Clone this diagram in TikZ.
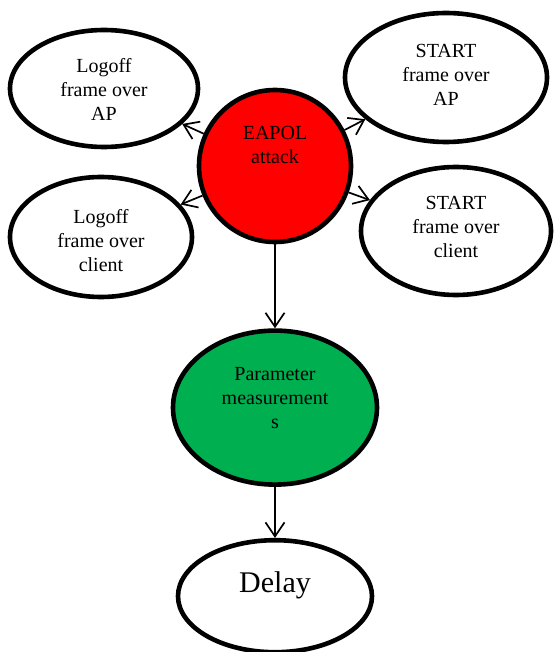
\documentclass[tikz,border=0pt]{standalone}
\usepackage{fontspec}
\setmainfont{Liberation Serif}
\usetikzlibrary{shapes.geometric, positioning, arrows.meta}
\definecolor{eapolred}{RGB}{255,0,0}
\definecolor{paramgreen}{RGB}{0,176,80}

\begin{document}
\begin{tikzpicture}[x=1pt, y=-1pt, node distance=84pt,
    bubble/.style={draw, ellipse, line width=4.6pt, inner sep=1pt, align=center, font=\fontsize{20}{24}\selectfont, text depth=4pt},
    link/.style={-{Straight Barb[length=14pt, width=19pt]}, line width=1.7pt}]
    \useasboundingbox (0,0) rectangle (555,652);

    \node[bubble, circle, fill=eapolred, minimum size=152pt, text height=0pt] (eapol) at (275,166) {EAPOL\\attack};
    \node[bubble, minimum width=188pt, minimum height=117pt, text height=69pt] (logoffap) at (104,88.5) {Logoff\\frame over\\AP};
    \node[bubble, minimum width=202pt, minimum height=129pt, text height=61pt] (startap) at (446,77.5) {START\\frame over\\AP};
    \node[bubble, minimum width=182pt, minimum height=120pt, text height=72pt] (logoffcl) at (101,237) {Logoff\\frame over\\client};
    \node[bubble, minimum width=190pt, minimum height=128pt, text height=56pt] (startcl) at (456,231) {START\\frame over\\client};
    \node[bubble, fill=paramgreen, minimum width=204pt, minimum height=154pt, text height=46pt, below=of eapol] (param) {Parameter\\measurement\\s};
    \node[bubble, font=\fontsize{30}{36}\selectfont, text height=20pt, text depth=28pt, minimum width=194pt, minimum height=112pt, below=51pt of param] (delay) {Delay};

    \draw[link] (eapol) -- (logoffap);
    \draw[link] (eapol) -- (startap);
    \draw[link] (eapol) -- (logoffcl);
    \draw[link] (eapol) -- (startcl);
    \draw[link] (eapol) -- (param);
    \draw[link] (param) -- (delay);
\end{tikzpicture}
\end{document}
